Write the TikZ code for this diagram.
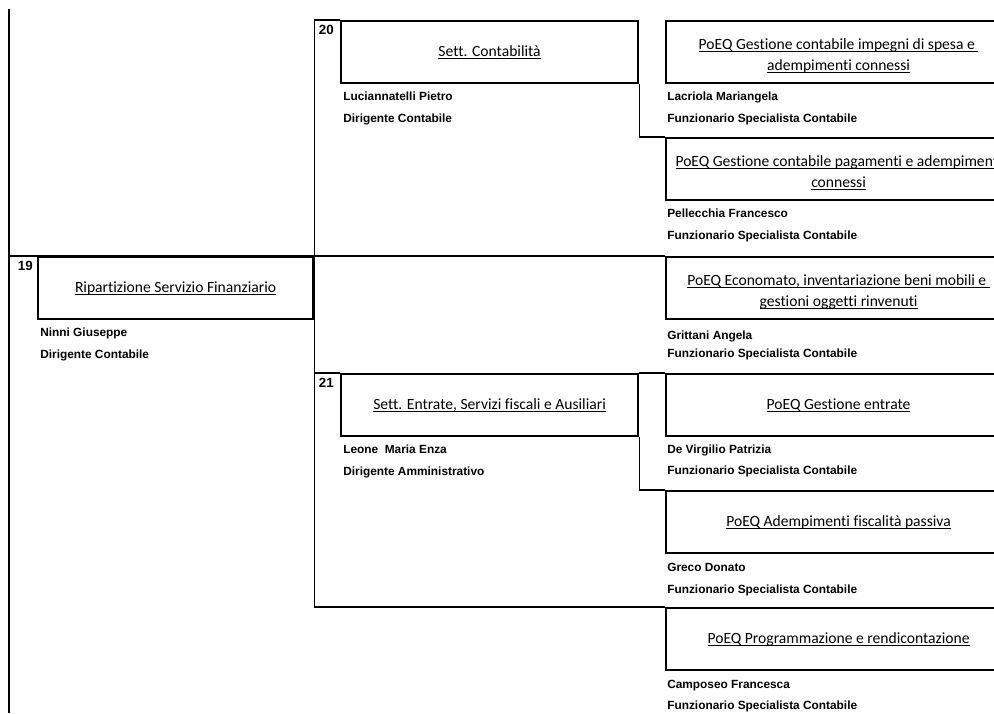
\documentclass[tikz,border=0pt]{standalone}
\usepackage{fontspec}
\setmainfont{Liberation Sans}
\newfontfamily\calibri[Ligatures={NoCommon}]{Carlito}
\newcommand{\sotto}[1]{\leavevmode\setbox0=\hbox{#1}\rlap{\rule[-2pt]{\wd0}{0.65pt}}\box0}
\newcommand{\alza}{\rule{0pt}{13.2pt}}
\tikzset{
	caja/.style={draw, line width=1.6pt, anchor=north west, inner sep=0pt, minimum height=46.5pt, align=center, font=\calibri\fontsize{11.7}{15.75}\selectfont},
	sett/.style={caja, minimum width=222.75pt},
	rip/.style={caja, minimum width=206.25pt},
	poeq/.style={caja, minimum width=258.75pt},
	persona/.style={anchor=base west, inner sep=0pt, font=\bfseries\fontsize{8.9}{10}\selectfont},
	numero/.style={anchor=east, inner sep=0pt, font=\bfseries\fontsize{10}{11}\selectfont},
	filo/.style={line width=0.8pt},
}
\begin{document}
\begin{tikzpicture}[x=0.75pt, y=-0.75pt]
	\useasboundingbox (0,0) rectangle (994,713);
	\clip (0,0) rectangle (994,713);
	
	% Ripartizione 19
	\node[rip] (r19) at (37,256) {\sotto{Ripartizione Servizio Finanziario}};
	\node[numero] (k19) at ([shift={(-4,10)}]r19.north west) {19};
	\node[persona] (a19) at ([shift={(3,16)}]r19.south west) {Ninni Giuseppe};
	\node[persona] (b19) at ([shift={(3,38)}]r19.south west) {Dirigente Contabile};
	
	% Settore 20
	\node[sett] (s20) at (340,20) {\sotto{Sett. Contabilità}};
	\node[numero] (k20) at ([shift={(-6,10)}]s20.north west) {20};
	\node[persona] (a20) at ([shift={(3,16)}]s20.south west) {Luciannatelli Pietro};
	\node[persona] (b20) at ([shift={(3,38)}]s20.south west) {Dirigente Contabile};
	
	% Settore 21
	\node[sett] (s21) at (340,373) {\sotto{Sett. Entrate, Servizi fiscali e Ausiliari}};
	\node[numero] (k21) at ([shift={(-6,10)}]s21.north west) {21};
	\node[persona] (a21) at ([shift={(3,16)}]s21.south west) {Leone~ Maria Enza};
	\node[persona] (b21) at ([shift={(3,38)}]s21.south west) {Dirigente Amministrativo};
	
	% Posizioni organizzative
	\node[poeq] (p1) at (665,20) {\alza\sotto{PoEQ Gestione contabile impegni di spesa e\ }\\\sotto{adempimenti connessi}};
	\node[persona] (a1) at ([shift={(2,16)}]p1.south west) {Lacriola Mariangela};
	\node[persona] (b1) at ([shift={(2,38)}]p1.south west) {Funzionario Specialista Contabile};
	
	\node[poeq] (p2) at (665,137) {\alza\sotto{PoEQ Gestione contabile pagamenti e adempimenti}\\\sotto{connessi}};
	\node[persona] (a2) at ([shift={(2,16)}]p2.south west) {Pellecchia Francesco};
	\node[persona] (b2) at ([shift={(2,38)}]p2.south west) {Funzionario Specialista Contabile};
	
	\node[poeq] (econ) at (665,256) {\alza\sotto{PoEQ Economato, inventariazione beni mobili e\ }\\\sotto{gestioni oggetti rinvenuti}};
	\node[persona] (a3) at ([shift={(2,19)}]econ.south west) {Grittani Angela};
	\node[persona] (b3) at ([shift={(2,37)}]econ.south west) {Funzionario Specialista Contabile};
	
	\node[poeq] (entr) at (665,373) {\sotto{PoEQ Gestione entrate}};
	\node[persona] (a4) at ([shift={(2,16)}]entr.south west) {De Virgilio Patrizia};
	\node[persona] (b4) at ([shift={(2,37)}]entr.south west) {Funzionario Specialista Contabile};
	
	\node[poeq] (adem) at (665,490) {\sotto{PoEQ Adempimenti fiscalità passiva}};
	\node[persona] (a5) at ([shift={(2,17)}]adem.south west) {Greco Donato};
	\node[persona] (b5) at ([shift={(2,39)}]adem.south west) {Funzionario Specialista Contabile};
	
	\node[poeq] (prog) at (665,607) {\sotto{PoEQ Programmazione e rendicontazione}};
	\node[persona] (a6) at ([shift={(2,17)}]prog.south west) {Camposeo Francesca};
	\node[persona] (b6) at ([shift={(2,38)}]prog.south west) {Funzionario Specialista Contabile};
	
	% Cornici e collegamenti
	\coordinate (alto) at (9,9);
	\coordinate (basso) at (9,713);
	\coordinate (t20) at (r19.north east |- s20.north west);
	\coordinate (t21) at (r19.north east |- s21.north west);
	\coordinate (fondo) at (r19.north east |- prog.north west);
	\draw[filo] (alto) -- (basso);
	\draw[filo] (alto |- r19.north) -- (econ.north west);
	\draw[filo] (t20) -- (s20.north west);
	\draw[filo] (t20) -- (fondo) -- (prog.north west);
	\draw[filo] (t21) -- (s21.north west);
	\draw[filo] (s21.north east) -- (entr.north west);
	\draw[filo] (s20.south east) |- (p2.north west);
	\draw[filo] (s21.south east) |- (adem.north west);
\end{tikzpicture}
\end{document}
